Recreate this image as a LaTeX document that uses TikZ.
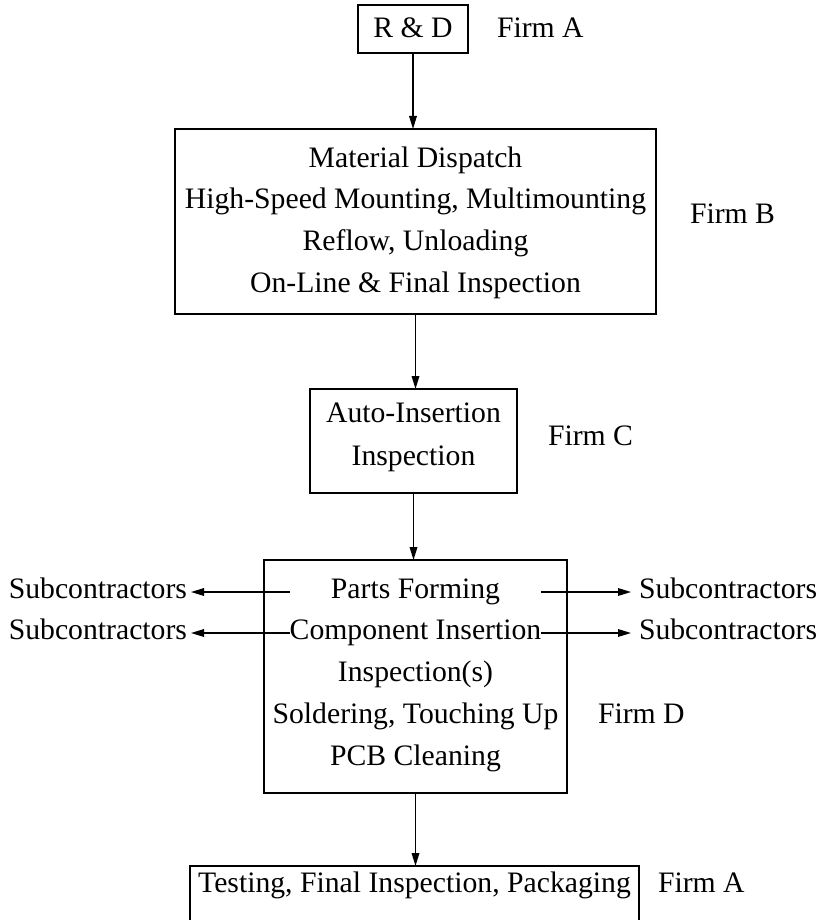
\documentclass[tikz,border=0pt]{standalone}
\usepackage{fontspec}
\setmainfont{Liberation Serif}
\usetikzlibrary{arrows.meta,calc}
\begin{document}
\begin{tikzpicture}[x=0.5pt,y=-0.5pt,
  every node/.style={font=\fontsize{14.85pt}{18pt}\selectfont, inner sep=0pt, outer sep=0pt},
  box/.style={draw, line width=0.85pt},
  lbl/.style={anchor=base},
  firm/.style={anchor=base west},
  arr/.style={line width=0.7pt, -{Triangle[length=6.5pt,width=3.8pt]}}]
\clip (0,0) rectangle (821,920);
% boxes
\node[box, minimum width=55pt, minimum height=24pt] (RD) at (413,29) {};
\node[box, minimum width=240.5pt, minimum height=92.5pt] (B) at (415.5,221.5) {};
\node[box, minimum width=103.5pt, minimum height=52pt] (C) at (413.5,441) {};
\node[box, minimum width=151.5pt, minimum height=116.5pt] (D) at (415.5,676.5) {};
\node[box, minimum width=224.5pt, minimum height=34.5pt] (E) at (414.5,900.5) {};
% texts
\node[lbl] (rdt) at (413,38) {R \& D};
\node[firm] (fa1) at (497,38) {Firm A};
\node[lbl] (b1) at (415.5,167) {Material Dispatch};
\node[lbl] (b2) at (415.5,208) {High-Speed Mounting, Multimounting};
\node[lbl] (b3) at (415.5,250) {Reflow, Unloading};
\node[lbl] (b4) at (415.5,292) {On-Line \& Final Inspection};
\node[firm] (fb) at (690,223) {Firm B};
\node[lbl] (c1) at (413.5,422) {Auto-Insertion};
\node[lbl] (c2) at (413.5,465) {Inspection};
\node[firm] (fc) at (548,445) {Firm C};
\node[lbl] (d1) at (415.5,598) {Parts Forming};
\node[lbl] (d2) at (415.5,639) {Component Insertion};
\node[lbl] (d3) at (415.5,681) {Inspection(s)};
\node[lbl] (d4) at (415.5,723) {Soldering, Touching Up};
\node[lbl] (d5) at (415.5,765) {PCB Cleaning};
\node[firm] (fd) at (598,723) {Firm D};
\node[lbl] (e1) at (414.5,892) {Testing, Final Inspection, Packaging};
\node[firm] (fa2) at (658,892) {Firm A};
\node[anchor=base east] (sl1) at (187,598) {Subcontractors};
\node[anchor=base east] (sl2) at (187,639) {Subcontractors};
\node[anchor=base west] (sr1) at (639,598) {Subcontractors};
\node[anchor=base west] (sr2) at (639,639) {Subcontractors};
% vertical connectors
\draw[arr] (RD.south) -- (RD.south |- B.north);
\draw[arr] (B.south) -- (B.south |- C.north);
\draw[arr] (C.south) -- (C.south |- D.north);
\draw[arr] (D.south) -- (D.south |- E.north);
% side connectors
\coordinate (r1) at ([yshift=3pt]d1.base);
\coordinate (r2) at ([yshift=3pt]d2.base);
\draw[arr] (r1 -| d2.west) -- ($(r1 -| sl1.east)+(4,0)$);
\draw[arr] (r2 -| d2.west) -- ($(r2 -| sl2.east)+(4,0)$);
\draw[arr] (r1 -| d2.east) -- ($(r1 -| sr1.west)+(-8,0)$);
\draw[arr] (r2 -| d2.east) -- ($(r2 -| sr2.west)+(-8,0)$);
\end{tikzpicture}
\end{document}
